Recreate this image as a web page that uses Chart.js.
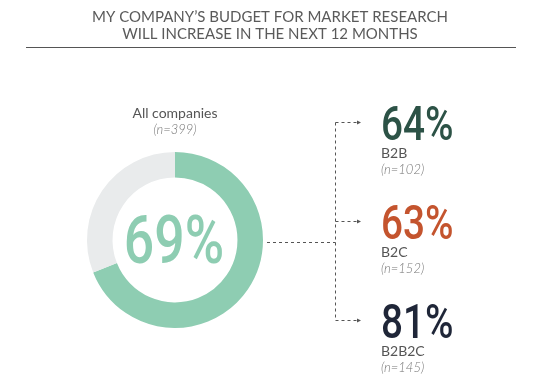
<!DOCTYPE html>
<html lang="en">
  <head>
    <meta charset="UTF-8" />
    <title>market research budget</title>
    <style>
      body {
        margin: 0;
        background: #ffffff;
        font-family: Lato, sans-serif;
      }
      .wrap {
        position: relative;
        width: 539px;
        height: 388px;
      }
    </style>
    <script src="https://cdn.jsdelivr.net/npm/chart.js"></script>
  </head>
  <body>
    <div class="wrap">
      <canvas id="budgetChart" width="539" height="388"></canvas>
    </div>

    <script>
      const titleLines = [
        "MY COMPANY\u2019S BUDGET FOR MARKET RESEARCH",
        "WILL INCREASE IN THE NEXT 12 MONTHS",
      ];
      const overallLabel = "All companies";
      const overallN = 399;
      const overallValue = 69;

      const segments = ["Increase", "Other"];
      const segmentValues = [overallValue, 100 - overallValue];

      const groups = ["B2B", "B2C", "B2B2C"];
      const groupValues = [64, 63, 81];
      const groupN = [102, 152, 145];
      const groupColors = ["#2c5246", "#c4542e", "#1f2638"];

      // texts, connectors and the big numbers drawn on top of the doughnut
      const overlay = {
        id: "overlay",
        afterDraw(chart) {
          const ctx = chart.ctx;
          const arc = chart.getDatasetMeta(0).data[0];
          const cx = arc.x;
          const cy = arc.y;
          const r = arc.outerRadius;

          ctx.save();
          ctx.textAlign = "center";
          ctx.textBaseline = "alphabetic";
          ctx.fillStyle = "#5a5a5a";
          ctx.font = "15px Lato";
          ctx.fillText(titleLines[0], 270, 22);
          ctx.fillText(titleLines[1], 270, 39);

          ctx.strokeStyle = "#555";
          ctx.lineWidth = 1;
          ctx.beginPath();
          ctx.moveTo(26, 47.5);
          ctx.lineTo(516, 47.5);
          ctx.stroke();

          // overall label
          ctx.fillStyle = "#555";
          ctx.font = "14px Lato";
          ctx.fillText(overallLabel, cx, 118);
          ctx.fillStyle = "#777";
          ctx.font = "italic 300 13px Lato";
          ctx.fillText("(n=" + overallN + ")", cx, 134);

          // big centre value, condensed
          drawCondensed(ctx, overallValue + "%", cx - 1, cy + 23, 67, 0.8, "#8ecdb2", "center");

          // connectors
          const bx = 335.5;
          const ys = [122.5, 221.5, 320.5];
          ctx.strokeStyle = "#555";
          ctx.setLineDash([3, 3]);
          ctx.beginPath();
          ctx.moveTo(cx + r + 4, 242.5);
          ctx.lineTo(bx, 242.5);
          ctx.moveTo(bx, ys[0]);
          ctx.lineTo(bx, ys[2]);
          ys.forEach((y) => {
            ctx.moveTo(bx, y);
            ctx.lineTo(358, y);
          });
          ctx.stroke();
          ctx.setLineDash([]);
          ctx.fillStyle = "#555";
          ys.forEach((y) => {
            ctx.beginPath();
            ctx.moveTo(361, y);
            ctx.lineTo(357, y - 2);
            ctx.lineTo(357, y + 2);
            ctx.closePath();
            ctx.fill();
          });

          // group values
          groups.forEach((g, i) => {
            const top = ys[i];
            drawCondensed(ctx, groupValues[i] + "%", 381, top + 17, 49, 0.79, groupColors[i], "left");
            ctx.textAlign = "left";
            ctx.fillStyle = "#555";
            ctx.font = "14px Lato";
            ctx.fillText(g, 381, top + 35);
            ctx.fillStyle = "#777";
            ctx.font = "italic 300 13px Lato";
            ctx.fillText("(n=" + groupN[i] + ")", 381, top + 51);
          });
          ctx.restore();
        },
      };

      function drawCondensed(ctx, text, x, y, size, sx, color, align) {
        ctx.save();
        ctx.font = "500 " + size + "px Roboto";
        ctx.fillStyle = color;
        ctx.textAlign = align;
        ctx.translate(x, y);
        ctx.scale(sx, 1);
        ctx.fillText(text, 0, 0);
        ctx.restore();
      }

      new Chart(document.getElementById("budgetChart"), {
        type: "doughnut",
        data: {
          labels: segments,
          datasets: [
            {
              data: segmentValues,
              backgroundColor: ["#8ecdb2", "#e9ebec"],
              borderWidth: 0,
            },
          ],
        },
        options: {
          responsive: false,
          animation: false,
          cutout: "71%",
          layout: {
            padding: { left: 87, right: 276, top: 152, bottom: 60 },
          },
          plugins: {
            legend: { display: false },
            tooltip: { enabled: false },
          },
        },
        plugins: [overlay],
      });
    </script>
  </body>
</html>
